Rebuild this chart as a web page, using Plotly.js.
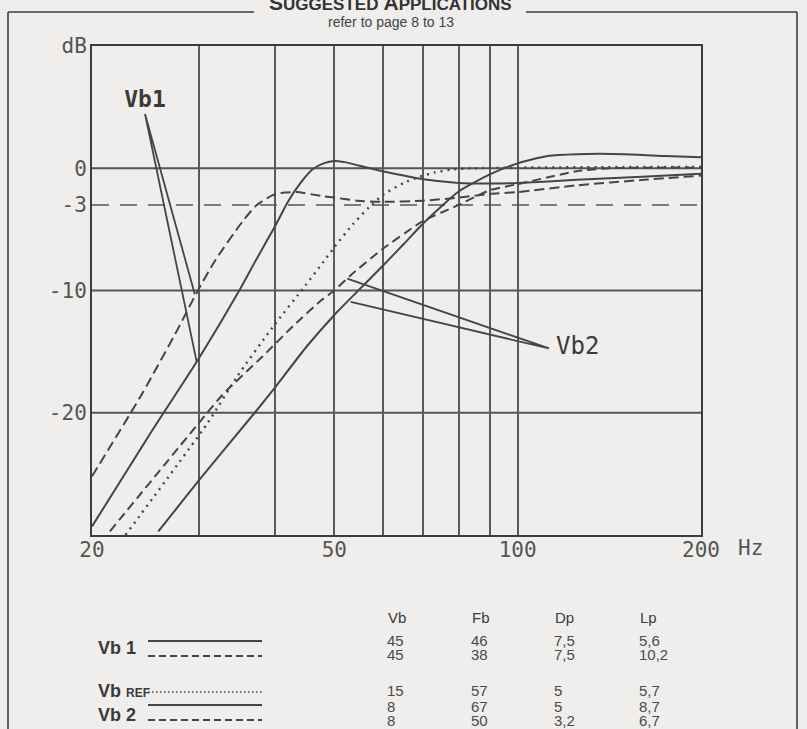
<!DOCTYPE html>
<html>
<head>
<meta charset="utf-8">
<script src="https://cdn.plot.ly/plotly-3.0.1.min.js"></script>
<style>html,body{margin:0;padding:0;background:#efeeec;}</style>
</head>
<body>
<div id="chart" style="width:807px;height:729px;"></div>
<script>
// ---- curve data (frequency Hz, level dB) ----
const vb1SolidF  = [20, 25, 30, 35, 37, 40, 42, 44, 46, 48, 50, 52, 55, 60, 65, 70, 80, 90, 100, 125, 160, 200];
const vb1SolidDb = [-29.3, -21.6, -15.5, -9.9, -7.7, -4.7, -2.7, -1.2, -0.1, 0.4, 0.6, 0.5, 0.2, -0.25, -0.6, -0.9, -1.2, -1.25, -1.2, -0.95, -0.7, -0.45];

const vb1DashF  = [20, 24.2, 27.7, 29.7, 31.9, 35.4, 37.3, 39.6, 41.1, 43.4, 48, 50, 54.5, 60, 70, 80, 90, 100, 125, 161, 200];
const vb1DashDb = [-25.2, -18.4, -13.1, -10.2, -7.5, -4.3, -3.0, -2.2, -2.0, -1.95, -2.3, -2.4, -2.65, -2.75, -2.65, -2.4, -2.1, -1.95, -1.4, -0.95, -0.6];

const vbRefF  = [22.7, 31, 34.6, 39.6, 44.8, 47.9, 50, 53.7, 57, 60, 65, 69, 73, 78, 85, 100, 150, 200];
const vbRefDb = [-30, -20.8, -17.05, -13.0, -9.6, -7.7, -6.45, -4.55, -3.2, -2.2, -1.2, -0.7, -0.35, -0.1, 0, 0.05, 0.1, 0.1];

const vb2SolidF  = [25.7, 30, 37, 40, 45, 50, 55, 60, 65, 70, 75, 80, 90, 100, 112, 125, 150, 175, 200];
const vb2SolidDb = [-29.7, -25.5, -20.0, -17.9, -14.6, -12.0, -9.9, -8.0, -6.2, -4.5, -3.1, -1.9, -0.5, 0.4, 1.0, 1.15, 1.15, 1.0, 0.9];

const vb2DashF  = [21.4, 30, 32.8, 38.1, 42.9, 47.6, 50, 53.2, 60, 68, 70, 80, 90, 100, 125, 142, 170, 200];
const vb2DashDb = [-29.7, -20.8, -18.5, -15.4, -12.85, -10.8, -10.0, -8.75, -6.6, -4.7, -4.3, -3.0, -1.8, -1.3, -0.25, 0.0, 0.05, 0.05];

// ---- axis ticks ----
const xTickVals = [20, 30, 40, 50, 60, 70, 80, 90, 100, 200];
const xTickText = ['20', '', '', '50', '', '', '', '', '100', '200'];
const yTickVals = [-20, -10, -3, 0, 10];
const yTickText = ['-20', '-10', '-3', '0', 'dB'];
const gridY = [0, -10, -20];
const refY = [-3];

// ---- callout labels ----
const vb1Label = {text: 'Vb1', f: 24.44, db: 5.5};
const vb1LeaderF  = [29.7, 24.44, 29.5];
const vb1LeaderDb = [-15.8, 4.44, -10.3];
const vb2Label = {text: 'Vb2', f: 125.5, db: -14.7};
const vb2LeaderF  = [52.5, 112.6, 53.2];
const vb2LeaderDb = [-9.03, -14.74, -10.94];

// ---- table ----
const tableHeaders = ['Vb', 'Fb', 'Dp', 'Lp'];
const tableVb = ['45', '45', '15', '8', '8'];
const tableFb = ['46', '38', '57', '67', '50'];
const tableDp = ['7,5', '7,5', '5', '5', '3,2'];
const tableLp = ['5,6', '10,2', '5,7', '8,7', '6,7'];
const rowLabels = ['Vb 1', 'Vb <span style="font-size:12px">REF</span>', 'Vb 2'];

// ---- styling ----
const ink = '#454545';
const gridInk = '#555555';
const bg = '#efeeec';
const mono = 'DejaVu Sans Mono, monospace';
const sans = 'Liberation Sans Narrow, Liberation Sans, Arial, sans-serif';

// pixel -> paper helpers (plot area: x 92..701, y 46..535)
const L = 92, R = 807 - 106, T = 46, B = 535;
const px = p => (p - L) / (R - L);
const py = p => (B - p) / (B - T);

function curve(f, db, dash, width) {
  return {x: f, y: db, type: 'scatter', mode: 'lines',
    line: {color: ink, width: width || 2, dash: dash || 'solid', shape: 'spline', smoothing: 0.6},
    hoverinfo: 'skip', showlegend: false};
}

const traces = [
  curve(vb1SolidF, vb1SolidDb, 'solid', 2),
  curve(vb1DashF, vb1DashDb, '10px,5px', 2),
  curve(vbRefF, vbRefDb, '2px,5px', 2.4),
  curve(vb2SolidF, vb2SolidDb, 'solid', 2),
  curve(vb2DashF, vb2DashDb, '9px,5px', 2),
  {x: vb1LeaderF, y: vb1LeaderDb, type: 'scatter', mode: 'lines', line: {color: ink, width: 1.8}, hoverinfo: 'skip', showlegend: false},
  {x: vb2LeaderF, y: vb2LeaderDb, type: 'scatter', mode: 'lines', line: {color: ink, width: 1.8}, hoverinfo: 'skip', showlegend: false},
  {x: [vb1Label.f], y: [vb1Label.db], text: ['<b>' + vb1Label.text + '</b>'], type: 'scatter', mode: 'text',
    textfont: {family: mono, size: 23, color: '#3a3a3a'}, textposition: 'middle center', hoverinfo: 'skip', showlegend: false, cliponaxis: false},
  {x: [vb2Label.f], y: [vb2Label.db], text: [vb2Label.text], type: 'scatter', mode: 'text',
    textfont: {family: mono, size: 24, color: '#3a3a3a'}, textposition: 'middle center', hoverinfo: 'skip', showlegend: false, cliponaxis: false}
];

const shapes = [];
gridY.forEach(v => shapes.push({type: 'line', xref: 'paper', yref: 'y', x0: 0, x1: 1, y0: v, y1: v, line: {color: gridInk, width: 2}, layer: 'below'}));
refY.forEach(v => shapes.push({type: 'line', xref: 'paper', yref: 'y', x0: 0, x1: 1, y0: v, y1: v, line: {color: gridInk, width: 1.6, dash: '17px,11px'}, layer: 'below'}));

// outer frame
const frameLine = {color: '#3c3c3c', width: 1.6};
shapes.push({type: 'line', xref: 'paper', yref: 'paper', x0: px(8), x1: px(8), y0: py(12), y1: py(740), line: frameLine});
shapes.push({type: 'line', xref: 'paper', yref: 'paper', x0: px(797), x1: px(797), y0: py(12), y1: py(740), line: frameLine});
shapes.push({type: 'line', xref: 'paper', yref: 'paper', x0: px(8), x1: px(254), y0: py(12), y1: py(12), line: frameLine});
shapes.push({type: 'line', xref: 'paper', yref: 'paper', x0: px(526), x1: px(797), y0: py(12), y1: py(12), line: frameLine});

// legend line samples in table
const sampleRows = [
  {y: 641, dash: 'solid', w: 2},
  {y: 656, dash: '7px,4px', w: 2},
  {y: 692, dash: '1.5px,2.5px', w: 1.6},
  {y: 705, dash: 'solid', w: 2},
  {y: 720, dash: '7px,4px', w: 2}
];
sampleRows.forEach(s => shapes.push({type: 'line', xref: 'paper', yref: 'paper', x0: px(148), x1: px(262), y0: py(s.y), y1: py(s.y), line: {color: ink, width: s.w, dash: s.dash}}));

const annotations = [];
annotations.push({xref: 'paper', yref: 'paper', x: px(390), y: py(3), showarrow: false,
  text: '<b>S<span style="font-size:17px">UGGESTED</span> A<span style="font-size:17px">PPLICATIONS</span></b>',
  font: {family: 'Liberation Sans, Arial, sans-serif', size: 21, color: '#333'}, xanchor: 'center', yanchor: 'middle'});
annotations.push({xref: 'paper', yref: 'paper', x: px(391), y: py(22), showarrow: false,
  text: 'refer to page 8 to 13', font: {family: sans, size: 14, color: '#444'}, xanchor: 'center', yanchor: 'middle'});
annotations.push({xref: 'paper', yref: 'paper', x: px(736), y: py(548), showarrow: false,
  text: 'Hz', font: {family: mono, size: 21, color: gridInk}, xanchor: 'left', yanchor: 'middle'});

// table
const colX = [386, 470, 553, 638];
const rowY = [640, 654, 690, 706, 720];
const cols = [tableVb, tableFb, tableDp, tableLp];
tableHeaders.forEach((h, i) => annotations.push({xref: 'paper', yref: 'paper', x: px(colX[i]), y: py(617), showarrow: false,
  text: h, font: {family: sans, size: 15, color: '#3a3a3a'}, xanchor: 'left', yanchor: 'middle'}));
cols.forEach((col, i) => col.forEach((v, r) => annotations.push({xref: 'paper', yref: 'paper', x: px(colX[i]), y: py(rowY[r]), showarrow: false,
  text: v, font: {family: sans, size: 15, color: '#4a4a4a'}, xanchor: 'left', yanchor: 'middle', borderpad: 0})));
const labelY = [648, 691, 715];
rowLabels.forEach((t, i) => annotations.push({xref: 'paper', yref: 'paper', x: px(96), y: py(labelY[i]), showarrow: false,
  text: '<b>' + t + '</b>', font: {family: sans, size: 18, color: '#3a3a3a'}, xanchor: 'left', yanchor: 'middle'}));

const layout = {
  width: 807, height: 729,
  margin: {l: L, r: 807 - R, t: T, b: 729 - B, pad: 0},
  paper_bgcolor: bg, plot_bgcolor: bg,
  showlegend: false,
  xaxis: {type: 'log', range: [Math.log10(20), Math.log10(200)], tickvals: xTickVals, ticktext: xTickText,
    showgrid: true, gridcolor: '#5a5a5a', gridwidth: 2, showline: true, mirror: true, linecolor: '#3c3c3c', linewidth: 2,
    ticks: '', zeroline: false, tickfont: {family: mono, size: 21, color: gridInk}, ticklabelstandoff: -5, fixedrange: true},
  yaxis: {range: [-30, 10], tickvals: yTickVals, ticktext: yTickText, showgrid: false, zeroline: false,
    showline: true, mirror: true, linecolor: '#3c3c3c', linewidth: 2, ticks: '',
    tickfont: {family: mono, size: 21, color: gridInk}, ticklabelstandoff: -1, fixedrange: true},
  shapes: shapes,
  annotations: annotations,
  hovermode: false
};

Plotly.newPlot('chart', traces, layout, {staticPlot: true, displayModeBar: false});
</script>
</body>
</html>
